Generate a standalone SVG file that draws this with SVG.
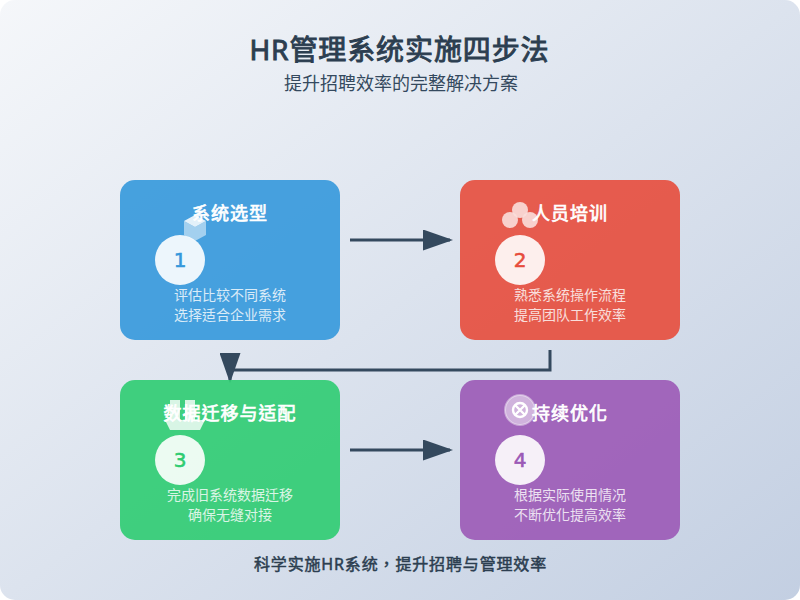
<svg xmlns="http://www.w3.org/2000/svg" width="800" height="600" viewBox="0 0 800 600">
<style>
text{font-family:"Noto Sans","Noto Sans CJK TC",sans-serif;text-anchor:middle}
.card{opacity:.9}
.t{font-size:18px;fill:#fff;stroke:#fff;stroke-width:.7px;letter-spacing:1px}
.d{font-size:14px;fill:#fff;opacity:.8}
.c{fill:#fff;opacity:.9}
.n{font-family:"DejaVu Sans",sans-serif;font-size:20px;stroke-width:.6px}
.ln{fill:none;stroke:#34495e;stroke-width:3}
</style>
<defs>
<linearGradient id="bg" x1="0" y1="0" x2="1" y2="1"><stop offset="0" stop-color="#f5f7fa"/><stop offset="1" stop-color="#c3cfe2"/></linearGradient>
<marker id="arrow" markerWidth="10" markerHeight="7" refX="9" refY="3.5" orient="auto"><polygon points="0 0,10 3.5,0 7" fill="#34495e"/></marker>
</defs>
<rect id="background" width="800" height="600" rx="15" fill="url(#bg)"/>
<text x="399.5" y="60" font-size="28" fill="#2c3e50" stroke="#2c3e50" stroke-width=".95" letter-spacing=".9">HR管理系统实施四步法</text>
<text x="401" y="90" font-size="18" fill="#34495e">提升招聘效率的完整解决方案</text>
<g id="connectors">
<line class="ln" x1="350" y1="240" x2="450" y2="240" marker-end="url(#arrow)"/>
<path class="ln" d="M550 350V370H230V380" marker-end="url(#arrow)"/>
<line class="ln" x1="350" y1="450" x2="450" y2="450" marker-end="url(#arrow)"/>
</g>
<g id="node1">
<rect class="card" x="120" y="180" width="220" height="160" rx="15" fill="#3498db"/>
<polygon points="184,221 195,227 206,221 206,235 195,241 184,235" fill="#fff" opacity=".5"/>
<polygon points="195,215 206,221 195,227 184,221" fill="#fff" opacity=".85"/>
<text class="t" x="230" y="220">系统选型</text>
<circle class="c" cx="180" cy="260" r="25"/>
<text class="n" x="180" y="267" fill="#3498db" stroke="#3498db">1</text>
<text class="d" x="230" y="300">评估比较不同系统</text>
<text class="d" x="230" y="320">选择适合企业需求</text>
</g>
<g id="node2">
<rect class="card" x="460" y="180" width="220" height="160" rx="15" fill="#e74c3c"/>
<g fill="#fff" opacity=".8"><circle cx="520" cy="210" r="8" opacity=".9"/><circle cx="510" cy="220" r="8" opacity=".9"/><circle cx="530" cy="220" r="8" opacity=".9"/></g>
<text class="t" x="570" y="220">人员培训</text>
<circle class="c" cx="520" cy="260" r="25"/>
<text class="n" x="520" y="267" fill="#e74c3c" stroke="#e74c3c">2</text>
<text class="d" x="570" y="300">熟悉系统操作流程</text>
<text class="d" x="570" y="320">提高团队工作效率</text>
</g>
<g id="node3">
<rect class="card" x="120" y="380" width="220" height="160" rx="15" fill="#2ecc71"/>
<g fill="#fff" opacity=".8"><rect x="170" y="400" width="10" height="20"/><rect x="185" y="400" width="10" height="20"/><polygon points="165,420 205,420 200,430 170,430"/></g>
<text class="t" x="230" y="420">数据迁移与适配</text>
<circle class="c" cx="180" cy="460" r="25"/>
<text class="n" x="180" y="467" fill="#2ecc71" stroke="#2ecc71">3</text>
<text class="d" x="230" y="500">完成旧系统数据迁移</text>
<text class="d" x="230" y="520">确保无缝对接</text>
</g>
<g id="node4">
<rect class="card" x="460" y="380" width="220" height="160" rx="15" fill="#9b59b6"/>
<circle cx="520" cy="410" r="15" fill="#fff" fill-opacity=".5" stroke="#fff" stroke-opacity=".4" stroke-width="2"/>
<circle cx="520" cy="410" r="7" fill="none" stroke="#fff" stroke-width="2.4"/>
<path d="M515 405L525 415M525 405L515 415" fill="none" stroke="#fff" stroke-width="2.4"/>
<text class="t" x="570" y="420">持续优化</text>
<circle class="c" cx="520" cy="460" r="25"/>
<text class="n" x="520" y="467" fill="#9b59b6" stroke="#9b59b6">4</text>
<text class="d" x="570" y="500">根据实际使用情况</text>
<text class="d" x="570" y="520">不断优化提高效率</text>
</g>
<text x="400.5" y="570" font-size="16" fill="#2c3e50" stroke="#2c3e50" stroke-width=".5" letter-spacing=".85">科学实施HR系统，提升招聘与管理效率</text>
</svg>
